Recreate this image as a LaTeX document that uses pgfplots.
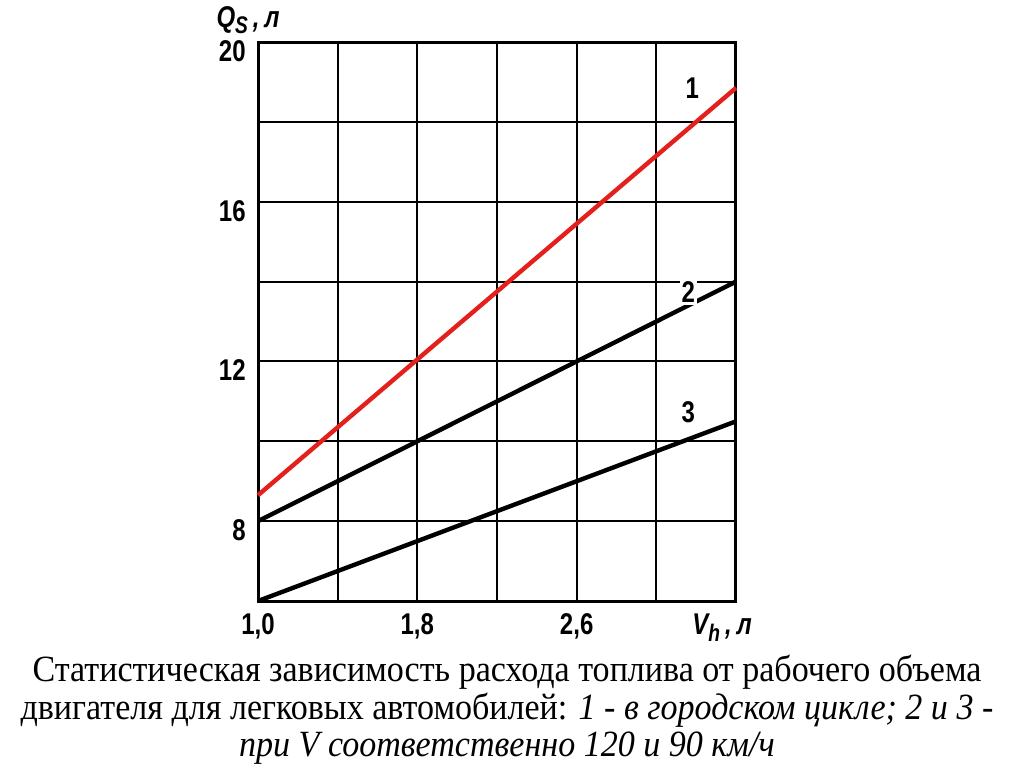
\documentclass[border=0pt]{standalone}
\usepackage{fontspec}
\usepackage{pgfplots}
\pgfplotsset{compat=1.18}
\setmainfont{Liberation Serif}
\newfontfamily\capfont{Liberation Serif}[FakeStretch=0.92]
\newfontfamily\tickfont{Liberation Sans}[FakeStretch=0.8]
\definecolor{redline}{RGB}{228,32,28}
\newcommand{\tf}{\tickfont\bfseries\fontsize{15}{17}\selectfont}
\begin{document}
\begin{tikzpicture}[x=0.5pt,y=0.5pt]
\path[use as bounding box, fill=white] (0,0) rectangle (1024,768);
\begin{axis}[
  at={(129pt,83.5pt)}, anchor=south west,
  scale only axis, width=239pt, height=279.5pt,
  xmin=1, xmax=3.4, ymin=6, ymax=20,
  xtick={1,1.8,2.6}, xticklabels={{1,0},{1,8},{2,6}},
  minor xtick={1.4,2.2,3.0},
  ytick={8,12,16,20}, yticklabels={8,12,16,20},
  minor ytick={6,10,14,18},
  major tick length=0pt, minor tick length=0pt,
  grid=both,
  major grid style={black, line width=1pt},
  minor grid style={black, line width=1pt},
  axis line style={black, line width=1.5pt},
  ticklabel style={font=\tf, inner sep=1pt},
  xticklabel style={yshift=-5pt},
  yticklabel style={xshift=-5pt, yshift=-4.5pt},
  clip=false,
]
\addplot[redline, line width=2.2pt] coordinates {(1.0,8.65) (3.4,18.85)};
\addplot[black, line width=2.2pt] coordinates {(1.0,8.0) (3.4,14.0)};
\addplot[black, line width=2.2pt] coordinates {(1.0,6.0) (3.4,10.5)};
\node[font=\tf] at (axis cs:3.18,18.85) {1};
\node[font=\tf, fill=white, inner sep=1pt] at (axis cs:3.16,13.73) {2};
\node[font=\tf] at (axis cs:3.16,10.73) {3};
\node[font=\tf\itshape, anchor=base, inner sep=0pt] at (axis cs:0.95,20.36) {Q\raisebox{-0.4ex}{\fontsize{12}{14}\selectfont S}\,,\,л};
\node[font=\tf\itshape] at (axis cs:3.33,5.33) {V\raisebox{-0.4ex}{\fontsize{12}{14}\selectfont h}\,,\,л};
\end{axis}
\node[font=\capfont\fontsize{18.5}{21}\selectfont] at (507,96) {Статистическая зависимость расхода топлива от рабочего объема};
\node[font=\capfont\fontsize{18.5}{21}\selectfont] at (507,58) {двигателя для легковых автомобилей: \textit{1 - в городском цикле; 2 и 3 -}};
\node[font=\capfont\fontsize{18.5}{21}\selectfont] at (507,20) {\textit{при V соответственно 120 и 90 км/ч}};
\end{tikzpicture}
\end{document}
